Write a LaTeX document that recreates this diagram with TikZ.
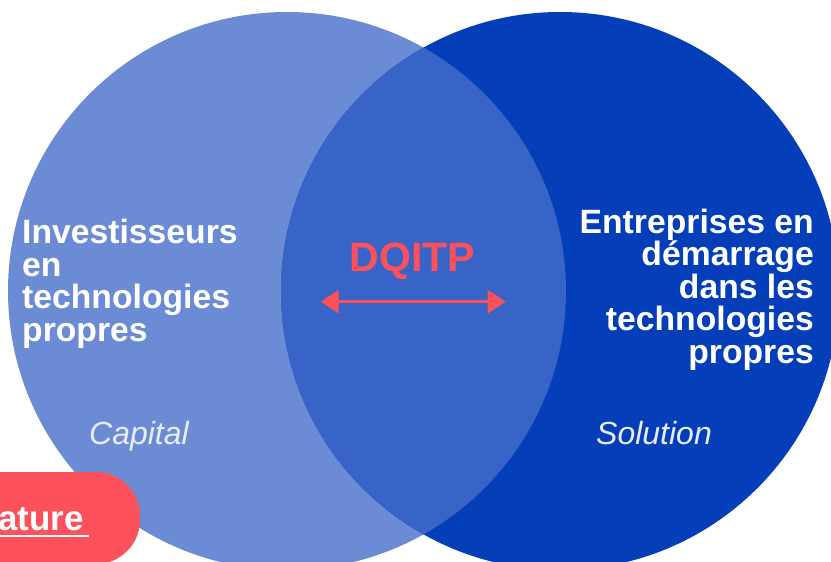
\documentclass[tikz,border=0pt]{standalone}
\usepackage{fontspec}
\setmainfont{Liberation Sans}
\usetikzlibrary{arrows.meta}
\definecolor{lightblue}{RGB}{107,140,212}
\definecolor{darkblue}{RGB}{5,62,185}
\definecolor{midblue}{RGB}{56,100,200}
\definecolor{accent}{RGB}{252,80,90}
\definecolor{softwhite}{RGB}{232,236,245}
\tikzset{
  bigtext/.style={text=white, inner sep=0pt, font=\bfseries\fontsize{33.7}{32.4}\selectfont},
  tagtext/.style={text=softwhite, inner sep=0pt, font=\itshape\fontsize{32}{32}\selectfont},
}
\begin{document}
\begin{tikzpicture}[x=1pt,y=-1pt]
\useasboundingbox (0,0) rectangle (831,562);
\clip (0,0) rectangle (831,562);
\fill[white] (0,0) rectangle (831,562);
% circles
\fill[lightblue] (287,291) circle[radius=279pt];
\fill[darkblue] (560,291) circle[radius=279pt];
\begin{scope}
  \clip (287,291) circle[radius=279pt];
  \fill[midblue] (560,291) circle[radius=279pt];
\end{scope}
% left text
\node[bigtext, anchor=base west, align=left] (inv) at (22,341)
  {Investisseurs\\en\\technologies\\propres};
% right text
\node[bigtext, anchor=base east, align=right] (ent) at (814,363)
  {Entreprises en\\démarrage\\dans les\\technologies\\propres};
% center
\node[text=accent, inner sep=0pt, anchor=base, font=\bfseries\fontsize{41}{41}\selectfont] (dq) at (412.5,271.7) {DQITP};
\coordinate (al) at (320.7,301.7);
\coordinate (ar) at (505.7,301.7);
\draw[accent, line width=3pt, {Triangle[length=18pt,width=23pt]}-{Triangle[length=18pt,width=23pt]}] (al) -- (ar);
% tags
\node[tagtext, anchor=base west] (cap) at (89,444) {Capital};
\node[tagtext, anchor=base west] (sol) at (596,444) {Solution};
% button
\fill[accent, rounded corners=44pt] (-120,472) rectangle (140,564);
\node[text=white, inner sep=0pt, anchor=base east, font=\bfseries\fontsize{35}{35}\selectfont] (btn) at (84,530) {ature};
\draw[white, line width=2.6pt] ([yshift=-6pt,xshift=-10pt]btn.base west) -- ([yshift=-6pt,xshift=5pt]btn.base east);
\end{tikzpicture}
\end{document}
